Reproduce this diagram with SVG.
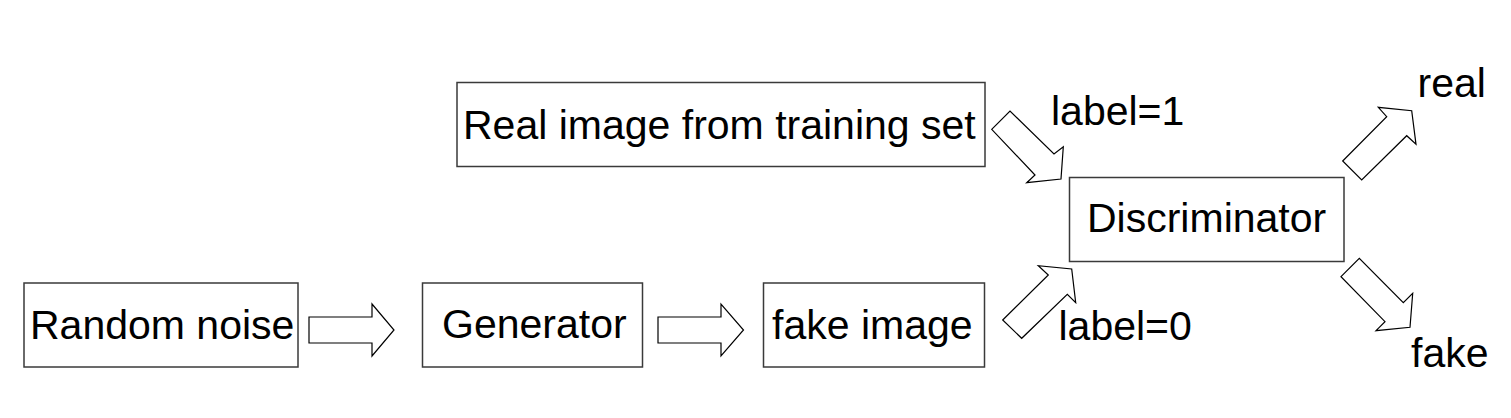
<svg xmlns="http://www.w3.org/2000/svg" width="1511" height="418" viewBox="0 0 1511 418">
<style>
.box{fill:#fff;stroke:#3a3a3a;stroke-width:1.5}
.arr{fill:#fff;stroke:#000;stroke-width:1.2;stroke-linejoin:miter}
text{font-family:"Liberation Sans",Arial,sans-serif;font-size:41px;fill:#000}
</style>
<rect width="1511" height="418" fill="#fff"/>
<g id="node-random-noise">
<rect class="box" x="24" y="283" width="274" height="84"/>
<text x="30" y="339">Random noise</text>
</g>
<g id="node-generator">
<rect class="box" x="422.5" y="283" width="220" height="84"/>
<text x="442" y="338">Generator</text>
</g>
<g id="node-fake-image">
<rect class="box" x="763.5" y="283" width="221" height="84"/>
<text x="772" y="338.5">fake image</text>
</g>
<g id="node-real-image">
<rect class="box" x="457" y="82.5" width="528" height="84"/>
<text x="463" y="138.5">Real image from training set</text>
</g>
<g id="node-discriminator">
<rect class="box" x="1069.5" y="177.5" width="274.5" height="84"/>
<text x="1087" y="232">Discriminator</text>
</g>
<g id="connectors">
<polygon class="arr" points="309,317 372,317 372,304 394,330 372,356 372,343 309,343"/>
<polygon class="arr" points="658,317 721,317 721,304 743.5,330 721,356 721,343 658,343"/>
<polygon class="arr" points="991.7,129.3 1010,111 1054,154 1063.3,146.7 1061,179 1026.7,182.7 1035,175"/>
<polygon class="arr" points="1002.7,320 1048.3,275 1038.3,265.7 1071.7,269 1075.7,302.7 1067.3,294.3 1021.7,338.3"/>
<polygon class="arr" points="1342.7,161 1386.7,116.7 1378.3,107.3 1411.7,110.7 1416,144.3 1406.7,135.7 1361.7,180"/>
<polygon class="arr" points="1341,276.7 1359.3,258.3 1403.3,302.7 1412.7,293.3 1410,327.3 1376,330.7 1385,321.7"/>
</g>
<g id="labels">
<text x="1051" y="125">label=1</text>
<text x="1058.5" y="339.5">label=0</text>
<text x="1417.5" y="97">real</text>
<text x="1411" y="367">fake</text>
</g>
</svg>
